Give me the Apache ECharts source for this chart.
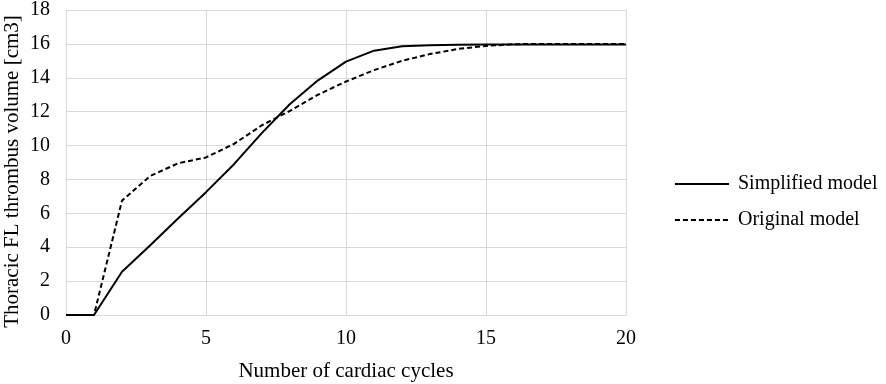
<!DOCTYPE html>
<html><head><meta charset="utf-8">
<script src="https://cdn.jsdelivr.net/npm/echarts@6/dist/echarts.min.js"></script>
<style>html,body{margin:0;padding:0;background:#fff}#c{width:886px;height:384px}</style>
</head><body><div id="c"></div>
<script>
const cycles = [0,1,2,3,4,5,6,7,8,9,10,11,12,13,14,15,16,17,18,19,20];
const simplified = [0,0,2.55,4.1,5.7,7.25,8.9,10.75,12.45,13.85,14.95,15.6,15.86,15.92,15.95,15.96,15.96,15.96,15.96,15.96,15.96];
const original = [0,0,6.75,8.2,8.95,9.3,10.1,11.2,12.05,13.0,13.78,14.45,15.0,15.4,15.7,15.88,15.98,16.0,16.0,16.0,16.0];
const xTicks = [0,5,10,15,20];
const yTicks = [0,2,4,6,8,10,12,14,16,18];
const seriesNames = ['Simplified model','Original model'];

const font = 'Liberation Serif, Times New Roman, serif';
const chart = echarts.init(document.getElementById('c'));
chart.setOption({
  animation:false,
  textStyle:{fontFamily:font},
  grid:{left:66,right:260,top:10,bottom:69,outerBoundsMode:'none',containLabel:false},
  legend:{
    orient:'vertical', left:669, top:169, itemGap:16, itemWidth:54, itemHeight:14,
    itemStyle:{opacity:0},
    textStyle:{fontFamily:font,fontSize:20,color:'#000',padding:[0,0,0,4]},
    data:seriesNames.map(n=>({name:n}))
  },
  xAxis:{
    type:'value', min:xTicks[0], max:xTicks[xTicks.length-1], interval:5,
    name:'Number of cardiac cycles', nameLocation:'middle', nameGap:46, nameMoveOverlap:false,
    nameTextStyle:{fontFamily:font,fontSize:21,color:'#000'},
    axisLine:{lineStyle:{color:'#d9d9d9'}}, axisTick:{show:false},
    axisLabel:{fontFamily:font,fontSize:20,color:'#000',margin:14},
    splitLine:{show:true,lineStyle:{color:'#d9d9d9'}}
  },
  yAxis:{
    type:'value', min:yTicks[0], max:yTicks[yTicks.length-1], interval:2,
    name:'Thoracic FL thrombus volume [cm3]', nameLocation:'middle', nameGap:43, nameMoveOverlap:false,
    nameTextStyle:{fontFamily:font,fontSize:21,color:'#000',padding:[0,18,0,0]},
    axisLine:{show:false}, axisTick:{show:false},
    axisLabel:{fontFamily:font,fontSize:20,color:'#000',margin:16},
    splitLine:{show:true,lineStyle:{color:'#d9d9d9'}}
  },
  series:[
    {name:seriesNames[0], type:'line', symbol:'none', data:cycles.map((c,i)=>[c,simplified[i]]),
     lineStyle:{color:'#000',width:2,type:'solid'}, itemStyle:{color:'#000'}},
    {name:seriesNames[1], type:'line', symbol:'none', data:cycles.map((c,i)=>[c,original[i]]),
     lineStyle:{color:'#000',width:2,type:[5,3]}, itemStyle:{color:'#000'}}
  ]
});
</script></body></html>
